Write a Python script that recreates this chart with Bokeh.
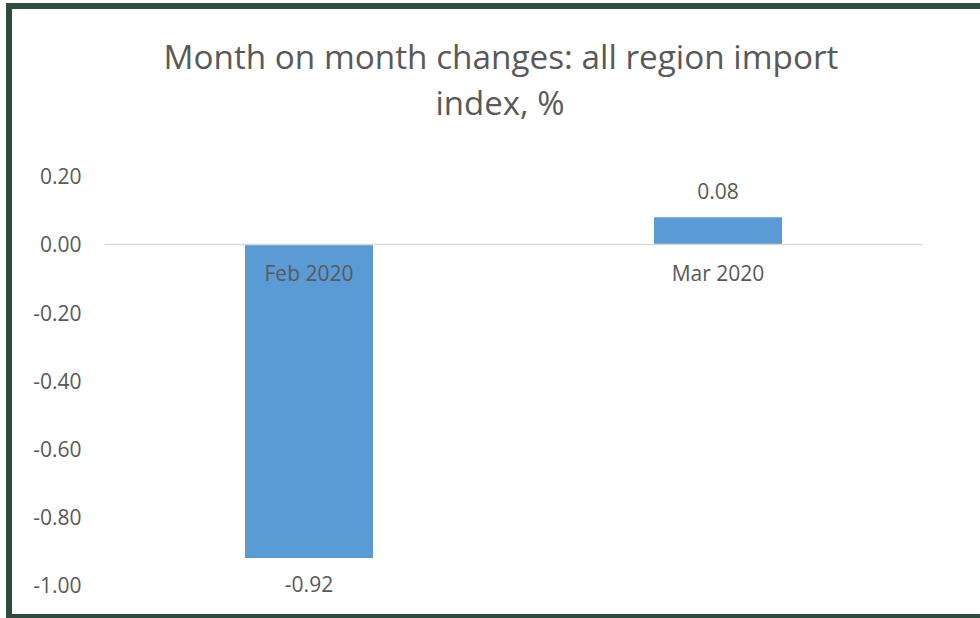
from bokeh.plotting import figure
from bokeh.models import (ColumnDataSource, FactorRange, Range1d, FixedTicker,
                          NumeralTickFormatter, Title)
from bokeh.core.properties import value
from bokeh.embed import file_html
from bokeh.resources import INLINE

# ---- data ----
months = ["Feb 2020", "Mar 2020"]
changes = [-0.92, 0.08]
change_labels = ["-0.92", "0.08"]
y_ticks = [-1.0, -0.8, -0.6, -0.4, -0.2, 0.0, 0.2]
title_line1 = "Month on month changes: all region import"
title_line2 = "index, %"

FONT = "Open Sans"
GREY = "#595959"
BAR = "#5B9BD5"
FRAME = "#2E4B3C"

label_offsets = [26 if v < 0 else -26 for v in changes]
src = ColumnDataSource(dict(month=months, change=changes, label=change_labels,
                            yoff=label_offsets))

p = figure(
    x_range=FactorRange(factors=months, range_padding=0),
    y_range=Range1d(-1.08, 0.352),
    width=974, height=615,
    min_border_left=92, min_border_right=64,
    min_border_top=115, min_border_bottom=12,
    output_backend="svg", toolbar_location=None, title=None,
    background_fill_color="white", border_fill_color="white",
    styles={
        "border-left": f"6px solid {FRAME}",
        "border-top": f"6px solid {FRAME}",
        "border-bottom": f"4px solid {FRAME}",
        "margin-left": "6px",
        "margin-top": "3px",
        "overflow": "hidden",
    },
)
p.outline_line_color = None
p.grid.visible = False

p.vbar(x="month", top="change", bottom=0, width=0.313, source=src,
       fill_color=BAR, line_color=None)

p.text(x="month", y="change", text="label", y_offset="yoff", source=src,
       text_align="center", text_baseline="middle",
       text_font=value(FONT), text_font_size="21px", text_color=GREY)

# x axis at zero
xa = p.xaxis[0]
xa.fixed_location = 0
xa.axis_line_color = "#D9D9D9"
xa.axis_line_width = 1.3
xa.major_tick_line_color = None
xa.minor_tick_line_color = None
xa.major_label_text_font = FONT
xa.major_label_text_font_size = "21px"
xa.major_label_text_color = GREY
xa.major_label_standoff = 9

ya = p.yaxis[0]
ya.ticker = FixedTicker(ticks=y_ticks)
ya.formatter = NumeralTickFormatter(format="0.00")
ya.axis_line_color = None
ya.major_tick_line_color = None
ya.minor_tick_line_color = None
ya.major_label_text_font = FONT
ya.major_label_text_font_size = "21px"
ya.major_label_text_color = GREY
ya.major_label_standoff = 17

t2 = Title(text=title_line2, align="left", text_font=FONT,
           text_font_size="33px", text_font_style="normal", text_color=GREY,
           standoff=0, offset=331)
t1 = Title(text=title_line1, align="left", text_font=FONT,
           text_font_size="33.3px", text_font_style="normal", text_color=GREY,
           standoff=-2, offset=59)
p.add_layout(t2, "above")
p.add_layout(t1, "above")

open("out.html", "w").write(file_html(p, INLINE))
